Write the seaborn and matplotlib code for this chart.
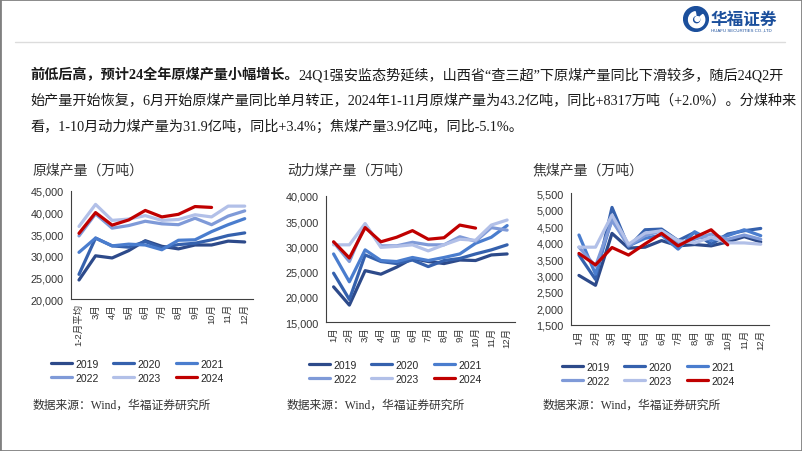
import numpy as np
import pandas as pd
import matplotlib
matplotlib.use("Agg")
import matplotlib.pyplot as plt
import matplotlib.patches as mpatches
import matplotlib.lines as mlines
import seaborn as sns

# -------------------------------
# Données
# -------------------------------
years = ["2019", "2020", "2021", "2022", "2023", "2024"]
colors = ["#2d4a8a", "#3561ad", "#4a7dce", "#7f9ad8", "#b2c0e8", "#c00000"]

raw_months = ["1-2月平均", "3月", "4月", "5月", "6月", "7月", "8月", "9月", "10月", "11月", "12月"]
raw_2019 = [24400, 30000, 29500, 31200, 33500, 32200, 31600, 32500, 32500, 33400, 33200]
raw_2020 = [25700, 34100, 32300, 32000, 33300, 31800, 32600, 32900, 33700, 34700, 35300]
raw_2021 = [30800, 34100, 32300, 32700, 32500, 31400, 33600, 33700, 35600, 37200, 38600]
raw_2022 = [34600, 39700, 36400, 37000, 38000, 37400, 37200, 38700, 37200, 39200, 40400]
raw_2023 = [36800, 41900, 38200, 38500, 39300, 38200, 38400, 39500, 39000, 41500, 41500]
raw_2024 = [35200, 40000, 37100, 38300, 40500, 39000, 39600, 41400, 41200]

months = ["1月", "2月", "3月", "4月", "5月", "6月", "7月", "8月", "9月", "10月", "11月", "12月"]
steam_2019 = [22000, 18400, 25200, 24500, 25900, 27600, 27000, 26600, 27300, 27200, 28300, 28500]
steam_2020 = [24700, 19500, 28300, 27000, 26600, 27300, 26000, 27200, 27600, 28500, 29300, 30300]
steam_2021 = [28500, 23000, 29300, 27200, 27000, 27800, 27200, 27800, 28500, 30600, 31800, 34100]
steam_2022 = [30800, 27000, 34300, 30100, 30100, 30800, 30300, 30300, 31900, 31000, 33700, 33200]
steam_2023 = [30300, 30300, 34500, 29800, 30000, 30300, 29100, 30300, 31400, 31200, 34200, 35200]
steam_2024 = [30900, 27700, 33700, 30900, 31800, 33100, 31400, 31700, 34200, 33600]

coking_2019 = [3000, 2700, 4280, 3830, 3860, 4060, 3900, 3940, 3900, 4020, 4180, 4020]
coking_2020 = [3620, 2880, 5070, 3860, 4390, 4410, 4060, 4310, 3950, 4260, 4360, 4430]
coking_2021 = [4230, 3040, 4720, 3900, 4130, 4230, 3800, 4330, 4060, 4210, 4390, 4210]
coking_2022 = [3860, 3280, 4670, 3900, 4210, 4360, 3950, 4100, 4260, 4100, 4230, 4100]
coking_2023 = [3860, 3860, 4840, 3950, 4290, 4360, 4060, 3990, 4160, 3990, 3990, 3950]
coking_2024 = [3670, 3320, 3850, 3620, 3960, 4280, 3900, 4160, 4390, 3930]

raw_series = [raw_2019, raw_2020, raw_2021, raw_2022, raw_2023, raw_2024]
steam_series = [steam_2019, steam_2020, steam_2021, steam_2022, steam_2023, steam_2024]
coking_series = [coking_2019, coking_2020, coking_2021, coking_2022, coking_2023, coking_2024]


def long_df(series):
    rows = []
    for yr, vals in zip(years, series):
        for i, v in enumerate(vals):
            rows.append({"idx": i, "val": v, "year": yr})
    return pd.DataFrame(rows)


sns.set_style("white")
plt.rcParams["font.family"] = ["Liberation Sans", "Noto Sans CJK SC"]
plt.rcParams["axes.unicode_minus"] = False

W, H = 802, 452
fig = plt.figure(figsize=(W / 100, H / 100), dpi=100)
fig.patch.set_facecolor("white")

# cadre gris + ligne d'en-tête
fig.add_artist(mpatches.Rectangle((0, 0), 1, 1, transform=fig.transFigure,
                                  fill=False, edgecolor="#808080", lw=2))
fig.add_artist(mlines.Line2D([15 / W, 785 / W], [1 - 43 / H, 1 - 43 / H],
                             transform=fig.transFigure, color="#dcdcdc", lw=1))

# logo
lax = fig.add_axes([683 / W, 1 - 33 / H, 26 / W, 26 / H])
lax.set_xlim(-1, 1)
lax.set_ylim(-1, 1)
lax.set_aspect("equal")
lax.axis("off")
lax.add_patch(mpatches.Circle((0, 0), 0.95, color="#1b4f9c"))
lax.add_patch(mpatches.Wedge((0.05, -0.05), 0.62, 100, 400, width=0.28, color="white"))
lax.add_patch(mpatches.Circle((0.1, 0.0), 0.18, color="white"))
fig.text(711 / W, 1 - 20 / H, "华福证券", fontsize=12, color="#1b4f9c",
         fontweight="bold", va="center", ha="left", family=["Noto Sans CJK SC"])
fig.text(711 / W, 1 - 31 / H, "HUAFU SECURITIES CO.,LTD", fontsize=3.2,
         color="#1b4f9c", va="center", ha="left")

# -------------------------------
# Paragraphe
# -------------------------------
para_font = ["Liberation Serif", "Noto Sans CJK SC"]
renderer = fig.canvas.get_renderer()
x0 = 30 / W
t = fig.text(x0, 1 - 75 / H, "前低后高，预计24全年原煤产量小幅增长。", fontsize=10.2,
             fontweight="bold", family=para_font, va="center", color="#1a1a1a")
bb = t.get_window_extent(renderer)
fig.text(bb.x1 / W, 1 - 75 / H,
         "24Q1强安监态势延续，山西省“查三超”下原煤产量同比下滑较多，随后24Q2开",
         fontsize=10.2, family=para_font, va="center", color="#1a1a1a")
fig.text(x0, 1 - 101 / H,
         "始产量开始恢复，6月开始原煤产量同比单月转正，2024年1-11月原煤产量为43.2亿吨，同比+8317万吨（+2.0%）。分煤种来",
         fontsize=10.2, family=para_font, va="center", color="#1a1a1a")
fig.text(x0, 1 - 127 / H,
         "看，1-10月动力煤产量为31.9亿吨，同比+3.4%；焦煤产量3.9亿吨，同比-5.1%。",
         fontsize=10.2, family=para_font, va="center", color="#1a1a1a")

# -------------------------------
# Graphiques
# -------------------------------
panels = [
    dict(title="原煤产量（万吨）", tx=33, labels=raw_months, series=raw_series,
         rect=(70.7, 192, 253, 300), ylim=(20000, 45000), step=5000,
         leg_x=51, leg_y=360, src_x=33),
    dict(title="动力煤产量（万吨）", tx=287, labels=months, series=steam_series,
         rect=(325.7, 196.7, 515, 323.3), ylim=(15000, 40000), step=5000,
         leg_x=309, leg_y=361, src_x=287),
    dict(title="焦煤产量（万吨）", tx=533, labels=months, series=coking_series,
         rect=(570.7, 194.3, 769, 325.7), ylim=(1500, 5500), step=500,
         leg_x=562, leg_y=363, src_x=543),
]

# ordre de légende : lignes 2019-2021 puis 2022-2024
leg_order = [0, 3, 1, 4, 2, 5]

for p in panels:
    x1, y1, x2, y2 = p["rect"]
    ax = fig.add_axes([x1 / W, 1 - y2 / H, (x2 - x1) / W, (y2 - y1) / H])
    df = long_df(p["series"])
    sns.lineplot(data=df, x="idx", y="val", hue="year", palette=colors,
                 hue_order=years, lw=2.3, ax=ax, legend=False, sort=False)
    n = len(p["labels"])
    ax.set_xlim(-0.5, n - 0.5)
    ax.set_ylim(*p["ylim"])
    ax.set_yticks(np.arange(p["ylim"][0], p["ylim"][1] + 1, p["step"]))
    ax.set_yticklabels([f"{v:,.0f}" for v in ax.get_yticks()], fontsize=7.8, color="#333333")
    ax.set_xticks(np.arange(-0.5, n, 1.0))
    ax.set_xticklabels([])
    ax.set_xticks(np.arange(n), minor=True)
    ax.set_xticklabels(p["labels"], minor=True, rotation=90, fontsize=6.8, color="#333333")
    ax.tick_params(axis="x", which="minor", length=0, pad=3)
    ax.tick_params(axis="x", which="major", length=3, width=0.8, color="#404040", direction="out")
    ax.tick_params(axis="y", length=3, width=0.8, color="#404040", direction="out", pad=2)
    ax.set_xlabel("")
    ax.set_ylabel("")
    for s in ["top", "right"]:
        ax.spines[s].set_visible(False)
    for s in ["left", "bottom"]:
        ax.spines[s].set_color("#404040")
        ax.spines[s].set_linewidth(0.8)

    fig.text(p["tx"] / W, 1 - 170 / H, p["title"], fontsize=10, color="#333333",
             va="center", ha="left", family=["Noto Sans CJK SC"])

    handles = [mlines.Line2D([], [], color=colors[i], lw=2.3) for i in leg_order]
    labels = [years[i] for i in leg_order]
    fig.legend(handles, labels, loc="upper left",
               bbox_to_anchor=(p["leg_x"] / W, 1 - p["leg_y"] / H), ncol=3,
               frameon=False, fontsize=7.5, handlelength=2.0, handletextpad=0.35,
               columnspacing=1.4, labelspacing=0.35, borderaxespad=0, borderpad=0)

    fig.text(p["src_x"] / W, 1 - 406 / H, "数据来源：Wind，华福证券研究所", fontsize=8.5,
             color="#333333", va="center", ha="left", family=para_font)

fig.savefig("out.png", dpi=100)
